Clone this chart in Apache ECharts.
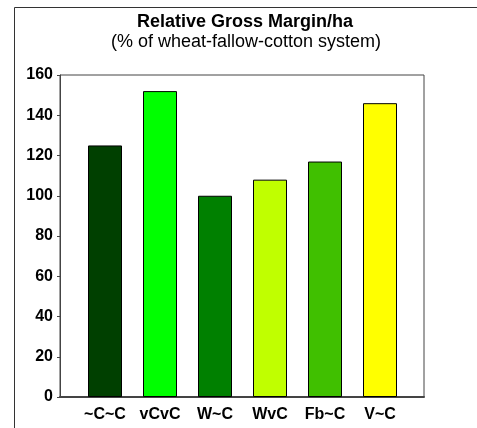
<!DOCTYPE html>
<html>
<head>
<meta charset="utf-8">
<script src="https://cdn.jsdelivr.net/npm/echarts@6/dist/echarts.min.js"></script>
<style>
  html, body { margin: 0; padding: 0; background: #fff; }
  #chart { width: 477px; height: 428px; }
</style>
</head>
<body>
<div id="chart"></div>
<script>
// data
const categories = ['~C~C', 'vCvC', 'W~C', 'WvC', 'Fb~C', 'V~C'];
const values = [125, 152, 100, 108, 117, 146];
const barColors = ['#004000', '#00ff00', '#008000', '#c0ff00', '#40c000', '#ffff00'];
const yTicks = [0, 20, 40, 60, 80, 100, 120, 140, 160];

const font = 'Arial, "Liberation Sans", sans-serif';
const chart = echarts.init(document.getElementById('chart'));

chart.setOption({
  backgroundColor: '#fff',
  animation: false,
  title: [
    {
      text: 'Relative Gross Margin/ha',
      left: 245, top: 13, textAlign: 'center', padding: 0,
      textStyle: { fontFamily: font, fontSize: 18, fontWeight: 'bold', color: '#000' }
    },
    {
      text: '(% of wheat-fallow-cotton system)',
      left: 246, top: 33, textAlign: 'center', padding: 0,
      textStyle: { fontFamily: font, fontSize: 18, fontWeight: 'normal', color: '#000' }
    }
  ],
  graphic: [
    { type: 'line', shape: { x1: 14.5, y1: 7.5, x2: 477, y2: 7.5 }, style: { stroke: '#333', lineWidth: 1 } },
    { type: 'line', shape: { x1: 14.5, y1: 7.5, x2: 14.5, y2: 428 }, style: { stroke: '#333', lineWidth: 1 } }
  ],
  grid: [
    { left: 60, top: 75, width: 364, height: 322, show: true, borderColor: '#444', borderWidth: 1, backgroundColor: 'transparent' },
    { left: 77.5, top: 75, width: 330, height: 322 }
  ],
  xAxis: [
    {
      gridIndex: 0, type: 'value', min: 0, max: 1,
      axisLine: { show: true, onZero: false, lineStyle: { color: '#444', width: 2 } },
      axisTick: { show: false }, axisLabel: { show: false }, splitLine: { show: false }
    },
    {
      gridIndex: 1, type: 'category', data: categories,
      axisLine: { show: false }, axisTick: { show: false },
      axisLabel: { margin: 10, fontFamily: font, fontSize: 16, fontWeight: 'bold', color: '#000' }
    }
  ],
  yAxis: [
    {
      gridIndex: 0, type: 'value', min: yTicks[0], max: yTicks[yTicks.length - 1], interval: 20,
      axisLine: { show: true, lineStyle: { color: '#444' } },
      axisTick: { show: true, inside: false, length: 3, lineStyle: { color: '#444' } },
      axisLabel: { margin: 7, fontFamily: font, fontSize: 16, fontWeight: 'bold', color: '#000' },
      splitLine: { show: false }
    },
    {
      gridIndex: 1, type: 'value', min: yTicks[0], max: yTicks[yTicks.length - 1],
      show: false, splitLine: { show: false }
    }
  ],
  series: [
    {
      type: 'bar',
      xAxisIndex: 1, yAxisIndex: 1,
      barWidth: 34,
      data: values.map((v, i) => ({
        value: v,
        itemStyle: { color: barColors[i], borderColor: '#000', borderWidth: 1 }
      }))
    }
  ]
});
</script>
</body>
</html>
